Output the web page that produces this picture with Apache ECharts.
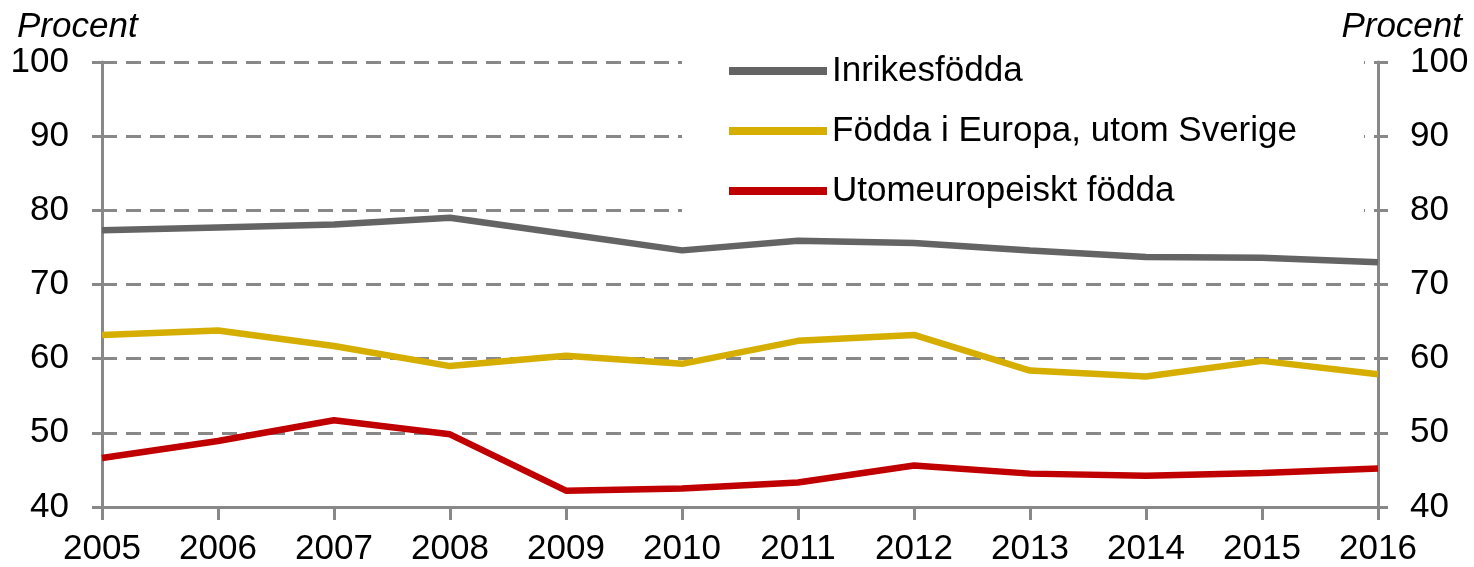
<!DOCTYPE html>
<html>
<head>
<meta charset="utf-8">
<script src="https://cdn.jsdelivr.net/npm/echarts@6/dist/echarts.min.js"></script>
<style>
  html, body { margin: 0; padding: 0; background: #fff; }
  #chart { width: 1474px; height: 567px; }
</style>
</head>
<body>
<div id="chart"></div>
<script>
// data
var years = ['2005', '2006', '2007', '2008', '2009', '2010', '2011', '2012', '2013', '2014', '2015', '2016'];
var seriesNames = ['Inrikesfödda', 'Födda i Europa, utom Sverige', 'Utomeuropeiskt födda'];
var inrikes = [77.3, 77.7, 78.1, 79.0, 76.8, 74.6, 75.9, 75.6, 74.6, 73.7, 73.6, 73.0];
var europa = [63.2, 63.8, 61.7, 59.0, 60.4, 59.3, 62.4, 63.2, 58.4, 57.6, 59.7, 57.9];
var utomEuropa = [46.6, 48.9, 51.7, 49.8, 42.2, 42.5, 43.3, 45.6, 44.5, 44.2, 44.6, 45.2];
var yTicks = [40, 50, 60, 70, 80, 90, 100];

var colors = ['#646464', '#d6ae00', '#c00000'];
var axisGray = '#888888';
var font = "'Liberation Sans', Arial, sans-serif";

var chart = echarts.init(document.getElementById('chart'));

// y-axis used twice (left and right), same scale
function makeYAxis(pos, margin) {
    return {
        type: 'value',
        position: pos,
        min: yTicks[0],
        max: yTicks[yTicks.length - 1],
        interval: 10,
        axisLine: { show: true, lineStyle: { color: axisGray, width: 3 } },
        axisTick: { show: true, length: 10, lineStyle: { color: axisGray, width: 3 } },
        axisLabel: { margin: margin, color: '#000', fontSize: 35, fontFamily: font },
        splitLine: {
            show: pos === 'left',
            lineStyle: { color: axisGray, width: 3, type: [15, 9] }
        }
    };
}

var series = [inrikes, europa, utomEuropa].map(function(vals, i) {
    return {
        name: seriesNames[i],
        type: 'line',
        data: vals,
        yAxisIndex: 0,
        symbol: 'none',
        lineStyle: { color: colors[i], width: 6.5 },
        itemStyle: { color: colors[i] }
    };
});

var option = {
    animation: false,
    backgroundColor: '#fff',
    grid: { left: 102, right: 96, top: 62, bottom: 58 },
    xAxis: {
        type: 'category',
        data: years,
        boundaryGap: false,
        axisLine: { lineStyle: { color: axisGray, width: 3 } },
        axisTick: { show: true, length: 13, alignWithLabel: true, lineStyle: { color: axisGray, width: 3 } },
        axisLabel: { margin: 25, color: '#000', fontSize: 35, fontFamily: font, interval: 0 },
        splitLine: { show: false }
    },
    yAxis: [makeYAxis('left', 33), makeYAxis('right', 32)],
    legend: {
        orient: 'vertical',
        left: 682,
        top: 40,
        padding: [11, 67, 10, 47],
        backgroundColor: '#fff',
        itemWidth: 98,
        itemHeight: 8,
        itemGap: 20,
        icon: 'rect',
        data: seriesNames,
        textStyle: { color: '#000', fontSize: 35, fontFamily: font, lineHeight: 40 },
        z: 5
    },
    graphic: [
        {
            type: 'text', left: 17, top: 10,
            style: { text: 'Procent', fill: '#000', font: 'italic 35px ' + font }
        },
        {
            type: 'text', right: 12, top: 10,
            style: { text: 'Procent', fill: '#000', font: 'italic 35px ' + font }
        }
    ],
    series: series
};

chart.setOption(option);
</script>
</body>
</html>
